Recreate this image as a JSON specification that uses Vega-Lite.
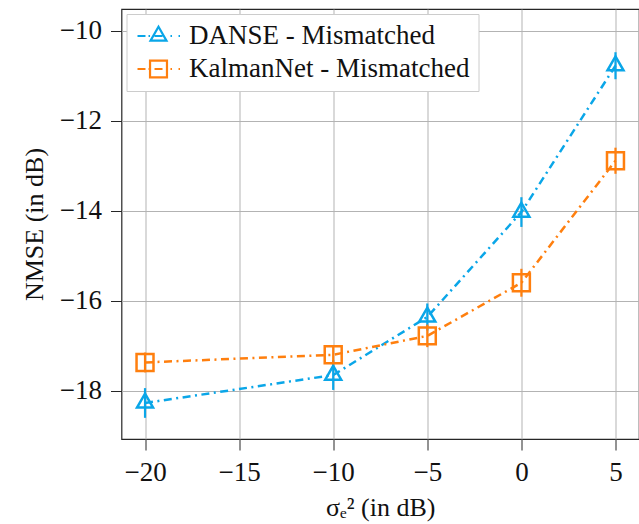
{
  "$schema": "https://vega.github.io/schema/vega-lite/v6.json",
  "width": 517.5,
  "height": 430,
  "autosize": {"type": "none"},
  "padding": {"left": 121.5, "top": 9, "right": 0, "bottom": 85},
  "background": "white",
  "config": {
    "font": "Liberation Serif",
    "view": {"stroke": "#262626", "strokeWidth": 1.2},
    "axis": {
      "domain": false,
      "grid": true,
      "gridColor": "#b3b3b3",
      "gridWidth": 1,
      "tickColor": "#262626",
      "tickSize": 11,
      "tickWidth": 1,
      "labelFont": "Liberation Serif",
      "labelFontSize": 27,
      "labelColor": "#111111",
      "labelPadding": 9,
      "titleFont": "Liberation Serif",
      "titleFontSize": 26,
      "titleFontWeight": "normal",
      "titleColor": "#111111"
    },
    "legend": {
      "orient": "top-left",
      "offset": 5,
      "padding": 8.5,
      "fillColor": "white",
      "strokeColor": "#cccccc",
      "strokeWidth": 1,
      "cornerRadius": 0,
      "labelFont": "Liberation Serif",
      "labelFontSize": 27,
      "labelColor": "#111111",
      "labelLimit": 500,
      "symbolSize": 196,
      "symbolOpacity": 1,
      "symbolStrokeWidth": 2.2,
      "labelOffset": 27,
      "rowPadding": 5
    }
  },
  "data": {
    "values": [
      {"s": "DANSE - Mismatched", "x": -20, "y": -18.27, "lo": -18.6, "hi": -17.94},
      {"s": "DANSE - Mismatched", "x": -10, "y": -17.65, "lo": -17.98, "hi": -17.32},
      {"s": "DANSE - Mismatched", "x": -5, "y": -16.36, "lo": -16.66, "hi": -16.06},
      {"s": "DANSE - Mismatched", "x": 0, "y": -14.03, "lo": -14.36, "hi": -13.7},
      {"s": "DANSE - Mismatched", "x": 5, "y": -10.78, "lo": -11.08, "hi": -10.48},
      {"s": "KalmanNet - Mismatched", "x": -20, "y": -17.37, "lo": -17.59, "hi": -17.15},
      {"s": "KalmanNet - Mismatched", "x": -10, "y": -17.2, "lo": -17.4, "hi": -17.0},
      {"s": "KalmanNet - Mismatched", "x": -5, "y": -16.78, "lo": -17.03, "hi": -16.53},
      {"s": "KalmanNet - Mismatched", "x": 0, "y": -15.6, "lo": -15.91, "hi": -15.29},
      {"s": "KalmanNet - Mismatched", "x": 5, "y": -12.89, "lo": -13.18, "hi": -12.6}
    ]
  },
  "encoding": {
    "x": {
      "field": "x",
      "type": "quantitative",
      "scale": {"domain": [-21.25, 6.25], "nice": false, "zero": false},
      "axis": {"values": [-20, -15, -10, -5, 0, 5], "title": "σₑ² (in dB)", "titlePadding": 9}
    },
    "y": {
      "field": "y",
      "type": "quantitative",
      "scale": {"domain": [-19.07, -9.52], "nice": false, "zero": false},
      "axis": {"values": [-18, -16, -14, -12, -10], "title": "NMSE (in dB)", "titlePadding": 12}
    }
  },
  "layer": [
    {
      "mark": {"type": "point", "filled": false, "strokeWidth": 2.2, "size": 196, "opacity": 0},
      "encoding": {
        "color": {
          "field": "s",
          "type": "nominal",
          "scale": {"domain": ["DANSE - Mismatched", "KalmanNet - Mismatched"], "range": ["#0aa6e8", "#ff7f0e"]},
          "legend": {"title": null}
        },
        "shape": {
          "field": "s",
          "type": "nominal",
          "scale": {
            "domain": ["DANSE - Mismatched", "KalmanNet - Mismatched"],
            "range": [
              "M-1.57,0L-0.43,0M0,0L0.22,0M0.86,0L2,0M3.14,0L3.36,0M4.29,0L4.5,0M1.43,-1.32L2.57,0.66L0.29,0.66Z",
              "M-1.57,0L-0.43,0M0,0L0.22,0M0.86,0L2,0M3.14,0L3.36,0M4.29,0L4.5,0M0.22,-1.21L2.64,-1.21L2.64,1.21L0.22,1.21Z"
            ]
          },
          "legend": {"title": null}
        }
      }
    },
    {
      "mark": {"type": "line", "strokeWidth": 2.5, "strokeDash": [8, 4.5, 2, 4.5]},
      "encoding": {
        "color": {"field": "s", "type": "nominal"}
      }
    },
    {
      "mark": {"type": "rule", "strokeWidth": 2.2},
      "encoding": {
        "y": {"field": "lo", "type": "quantitative"},
        "y2": {"field": "hi"},
        "color": {"field": "s", "type": "nominal"}
      }
    },
    {
      "transform": [{"filter": "datum.s === 'DANSE - Mismatched'"}],
      "mark": {"type": "point", "filled": false, "strokeWidth": 2.5, "size": 256, "opacity": 1, "shape": "M0,-1.155L1,0.577L-1,0.577Z"},
      "encoding": {
        "color": {"field": "s", "type": "nominal"}
      }
    },
    {
      "transform": [{"filter": "datum.s === 'KalmanNet - Mismatched'"}],
      "mark": {"type": "point", "filled": false, "strokeWidth": 2.5, "size": 256, "opacity": 1, "shape": "M-1.06,-1.06L1.06,-1.06L1.06,1.06L-1.06,1.06Z"},
      "encoding": {
        "color": {"field": "s", "type": "nominal"}
      }
    }
  ]
}
